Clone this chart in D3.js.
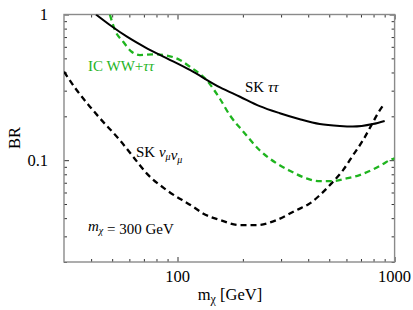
<!DOCTYPE html>
<html>
<head>
<meta charset="utf-8">
<script src="https://cdn.jsdelivr.net/npm/d3@7"></script>
<style>
  body { margin: 0; background: #fff; }
  text { font-family: "Liberation Serif", "DejaVu Serif", serif; }
</style>
</head>
<body>
<script>
// values (mass in GeV, branching ratio)
const massSKtau = [42.1, 48.8, 58.5, 72.3, 89.4, 114, 157, 194, 239, 296, 366, 452, 559, 641, 793, 900];
const brSKtau   = [1.0, 0.847, 0.704, 0.586, 0.500, 0.416, 0.316, 0.2725, 0.235, 0.210, 0.191, 0.177, 0.1714, 0.170, 0.177, 0.186];

const massSKnu = [30, 34.3, 39.5, 43.9, 54.3, 62.5, 72.1, 89.1, 118, 131, 157, 194, 231, 286, 353, 407, 444, 512, 579, 643, 715, 782, 838, 888];
const brSKnu   = [0.405, 0.303, 0.233, 0.194, 0.137, 0.1055, 0.0812, 0.0623, 0.0479, 0.0431, 0.0388, 0.0358, 0.0358, 0.0388, 0.0454, 0.0505, 0.0561, 0.0693, 0.0855, 0.108, 0.137, 0.174, 0.210, 0.239];

const massIC = [48.8, 51.5, 56.2, 61.5, 67.1, 77.3, 89.1, 102.6, 114, 136, 157, 174, 201, 239, 286, 329, 393, 444, 520, 600, 690, 795, 884, 949, 1000];
const brIC   = [1.0, 0.782, 0.650, 0.555, 0.527, 0.533, 0.523, 0.487, 0.438, 0.355, 0.263, 0.204, 0.157, 0.117, 0.0951, 0.0846, 0.075, 0.0719, 0.0719, 0.075, 0.079, 0.0865, 0.094, 0.100, 0.103];

const xMajor = [100, 1000];
const xMinor = [40, 50, 60, 70, 80, 90, 200, 300, 400, 500, 600, 700, 800, 900];
const yMajor = [0.1, 1];
const yMinor = [0.02, 0.03, 0.04, 0.05, 0.06, 0.07, 0.08, 0.09, 0.2, 0.3, 0.4, 0.5, 0.6, 0.7, 0.8, 0.9];

const W = 413, H = 310;
const margin = { left: 64, right: 18.4, top: 14.5, bottom: 48 };
const green = "#1fb41f";

const svg = d3.select("body").append("svg")
    .attr("width", W)
    .attr("height", H);

const x = d3.scaleLog().domain([30, 1000]).range([margin.left, W - margin.right]);
const y = d3.scaleLog().domain([0.02, 1]).range([H - margin.bottom, margin.top]);

svg.append("clipPath").attr("id", "clip")
    .append("rect")
    .attr("x", margin.left).attr("y", margin.top)
    .attr("width", W - margin.left - margin.right)
    .attr("height", H - margin.top - margin.bottom);

// inward ticks on all four sides
const addTicks = (axis, vals, size, transform) => {
    const g = svg.append("g")
        .attr("transform", transform)
        .call(axis.tickValues(vals).tickSize(-size).tickFormat(""));
    g.select(".domain").remove();
    g.selectAll(".tick line").attr("stroke", "#333").attr("stroke-width", 1);
};
const bottomY = H - margin.bottom, rightX = W - margin.right;
addTicks(d3.axisBottom(x), xMajor, 5, `translate(0,${bottomY})`);
addTicks(d3.axisBottom(x), xMinor, 3, `translate(0,${bottomY})`);
addTicks(d3.axisTop(x), xMajor, 5, `translate(0,${margin.top})`);
addTicks(d3.axisTop(x), xMinor, 3, `translate(0,${margin.top})`);
addTicks(d3.axisLeft(y), yMajor, 5, `translate(${margin.left},0)`);
addTicks(d3.axisLeft(y), yMinor, 3, `translate(${margin.left},0)`);
addTicks(d3.axisRight(y), yMajor, 5, `translate(${rightX},0)`);
addTicks(d3.axisRight(y), yMinor, 3, `translate(${rightX},0)`);

// frame
svg.append("rect")
    .attr("x", margin.left).attr("y", margin.top)
    .attr("width", rightX - margin.left)
    .attr("height", bottomY - margin.top)
    .attr("fill", "none")
    .attr("stroke", "#8a8a8a")
    .attr("stroke-width", 1.4);

// tick labels
svg.selectAll(".xlab").data(xMajor).enter().append("text")
    .attr("x", d => x(d)).attr("y", 282)
    .attr("text-anchor", "middle")
    .attr("font-size", 16.5)
    .text(d => d);
svg.selectAll(".ylab").data(yMajor).enter().append("text")
    .attr("x", 48).attr("y", d => y(d) + 5.5)
    .attr("text-anchor", "end")
    .attr("font-size", 16.5)
    .text(d => d);

// axis titles
const xt = svg.append("text")
    .attr("x", 230).attr("y", 300)
    .attr("text-anchor", "middle")
    .attr("font-size", 16.5);
xt.append("tspan").text("m");
xt.append("tspan").attr("font-size", 12).attr("dy", 3).text("χ");
xt.append("tspan").attr("dy", -3).text(" [GeV]");

svg.append("text")
    .attr("transform", "translate(20,138) rotate(-90)")
    .attr("text-anchor", "middle")
    .attr("font-size", 16.5)
    .text("BR");

// curves
const line = (ms, bs) => d3.line()
    .x((d, i) => x(ms[i]))
    .y((d, i) => y(bs[i]))
    .curve(d3.curveMonotoneX)(ms);

const curves = svg.append("g").attr("clip-path", "url(#clip)");
curves.append("path")
    .attr("d", line(massSKnu, brSKnu))
    .attr("fill", "none").attr("stroke", "#000")
    .attr("stroke-width", 2.3).attr("stroke-dasharray", "6,4");
curves.append("path")
    .attr("d", line(massIC, brIC))
    .attr("fill", "none").attr("stroke", green)
    .attr("stroke-width", 2.3).attr("stroke-dasharray", "6,4");
curves.append("path")
    .attr("d", line(massSKtau, brSKtau))
    .attr("fill", "none").attr("stroke", "#000")
    .attr("stroke-width", 2);

// in-plot labels
const sub = (t, main, s) => {
    t.append("tspan").attr("font-style", "italic").text(main);
    t.append("tspan").attr("font-style", "italic").attr("font-size", 10).attr("dy", 3).text(s);
    t.append("tspan").attr("dy", -3).text("");
};

svg.append("text")
    .attr("x", 88).attr("y", 71)
    .attr("font-size", 15).attr("fill", green)
    .call(t => {
        t.append("tspan").text("IC WW+");
        t.append("tspan").attr("font-style", "italic").text("ττ");
    });

svg.append("text")
    .attr("x", 245).attr("y", 92)
    .attr("font-size", 15)
    .call(t => {
        t.append("tspan").text("SK ");
        t.append("tspan").attr("font-style", "italic").text("ττ");
    });

const nuLab = svg.append("text")
    .attr("x", 136).attr("y", 157)
    .attr("font-size", 15);
nuLab.append("tspan").text("SK ");
sub(nuLab, "ν", "μ");
sub(nuLab, "ν", "μ");

const mLab = svg.append("text")
    .attr("x", 88).attr("y", 231)
    .attr("font-size", 15);
sub(mLab, "m", "χ");
mLab.append("tspan").text(" = 300 GeV");
</script>
</body>
</html>
